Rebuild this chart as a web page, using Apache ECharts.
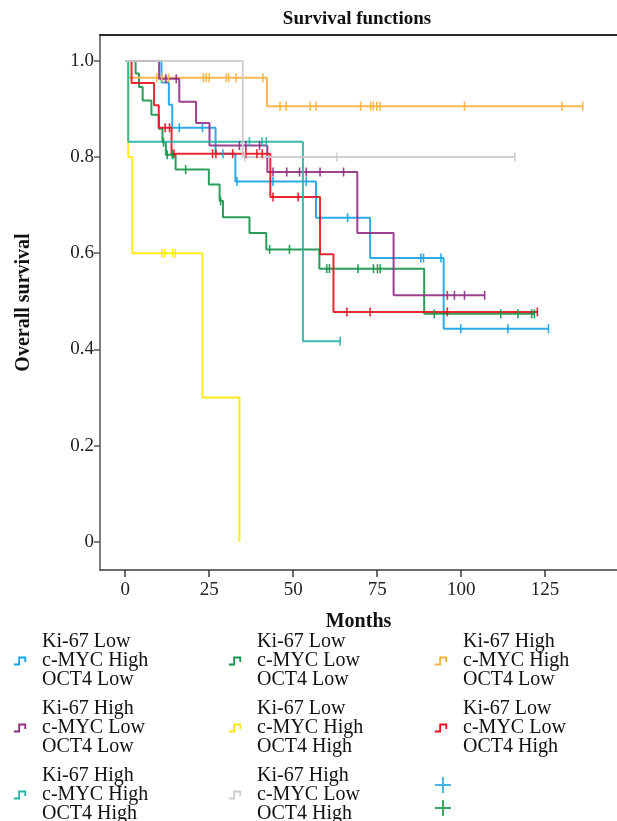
<!DOCTYPE html>
<html><head><meta charset="utf-8">
<script src="https://cdn.jsdelivr.net/npm/echarts@6/dist/echarts.min.js"></script>
<style>html,body{margin:0;padding:0;background:#fff}#c{width:617px;height:821px}</style>
</head><body><div id="c"></div>
<script>
// ---------- data ----------
const groupNames = [
  'Ki-67 Low\nc-MYC High\nOCT4 Low',
  'Ki-67 Low\nc-MYC Low\nOCT4 Low',
  'Ki-67 High\nc-MYC High\nOCT4 Low',
  'Ki-67 High\nc-MYC Low\nOCT4 Low',
  'Ki-67 Low\nc-MYC High\nOCT4 High',
  'Ki-67 Low\nc-MYC Low\nOCT4 High',
  'Ki-67 High\nc-MYC High\nOCT4 High',
  'Ki-67 High\nc-MYC Low\nOCT4 High'
];
const groupColors = ['#16a2e4','#139447','#f8b03e','#902c84','#ffe900','#e6121d','#27b0a3','#cbcbcb'];

// event (drop) times and survival after each drop; last follow-up time; censor times
const eventTimes0 = [10.8, 13, 14, 26.9, 32.8, 56.8, 72.9, 94.8];
const survival0   = [0.955, 0.909, 0.861, 0.807, 0.749, 0.674, 0.590, 0.443];
const lastTime0 = 126;
const censor0 = [16.1, 23, 29.1, 33.3, 44, 53.9, 66.2, 88, 88.8, 94, 99.9, 113.9, 126];

const eventTimes1 = [3.1, 4.1, 5.2, 7.8, 10, 11.1, 12.1, 15, 24.9, 28.1, 29.1, 37, 42, 57.8, 89];
const survival1   = [0.974, 0.946, 0.918, 0.888, 0.859, 0.831, 0.805, 0.774, 0.743, 0.709, 0.675, 0.642, 0.608, 0.568, 0.474];
const lastTime1 = 121.8;
const censor1 = [11.4, 12.5, 14, 18, 28.4, 43, 48.9, 60, 60.8, 69.3, 73.9, 75.1, 75.9, 92, 111.8, 116.9, 121, 121.8];

const eventTimes2 = [0.9, 42.2];
const survival2   = [0.965, 0.906];
const lastTime2 = 136.2;
const censor2 = [9.4, 10.9, 12.9, 23.3, 24.1, 25, 30.1, 30.8, 33, 41, 46.1, 47.9, 55.1, 56.8, 70.1, 73.1, 73.9, 74.9, 75.9, 101, 130, 136.2];

const eventTimes3 = [10.1, 16.1, 21.1, 25.1, 42.3, 69.1, 79.9];
const survival3   = [0.963, 0.915, 0.871, 0.824, 0.769, 0.642, 0.5125];
const lastTime3 = 107;
const censor3 = [12.1, 15.2, 34, 35.9, 40, 44, 48.1, 51.9, 53.9, 58, 65, 95.9, 98, 101, 107];

const eventTimes4 = [0.9, 2.1, 23, 34];
const survival4   = [0.8, 0.6, 0.3, 0];
const lastTime4 = 34;
const censor4 = [10.9, 11.7, 14.1, 14.9];

const eventTimes5 = [1.9, 8.6, 10, 13.8, 43.2, 58, 62];
const survival5   = [0.954, 0.908, 0.861, 0.807, 0.717, 0.598, 0.478];
const lastTime5 = 122.7;
const censor5 = [11.9, 13.2, 14.5, 26, 27, 32, 35.9, 39.2, 40.8, 44, 51.5, 66, 72.9, 95.9, 122.7];

const eventTimes6 = [0.9, 52.9];
const survival6   = [0.832, 0.417];
const lastTime6 = 64;
const censor6 = [37, 40.7, 42, 64];

const eventTimes7 = [35];
const survival7   = [0.8];
const lastTime7 = 116;
const censor7 = [35.6, 63, 116];

const xTicks = [0, 25, 50, 75, 100, 125];
const yTicks = [0, 0.2, 0.4, 0.6, 0.8, 1.0];

// ---------- build ----------
const allEvents = [eventTimes0,eventTimes1,eventTimes2,eventTimes3,eventTimes4,eventTimes5,eventTimes6,eventTimes7];
const allSurv = [survival0,survival1,survival2,survival3,survival4,survival5,survival6,survival7];
const allLast = [lastTime0,lastTime1,lastTime2,lastTime3,lastTime4,lastTime5,lastTime6,lastTime7];
const allCensor = [censor0,censor1,censor2,censor3,censor4,censor5,censor6,censor7];

function survAt(ts, ss, t){ let s = 1; for (let i=0;i<ts.length;i++){ if (ts[i] <= t) s = ss[i]; } return s; }

const FONT = 'Liberation Serif';
const stepIcon = 'path://M0,8 L6,8 L6,0 L13,0 L13,5';
const plusIcon = 'path://M7,0 L9,0 L9,7 L16,7 L16,9 L9,9 L9,16 L7,16 L7,9 L0,9 L0,7 L7,7 Z';

const series = [];
groupNames.forEach((name, g) => {
  const pts = [[0, 1]];
  allEvents[g].forEach((t, i) => pts.push([t, allSurv[g][i]]));
  pts.push([allLast[g], allSurv[g][allSurv[g].length - 1]]);
  series.push({
    name, type: 'line', step: 'end', data: pts, showSymbol: false, symbol: 'none',
    lineStyle: { color: groupColors[g], width: 2, opacity: 0.9 },
    itemStyle: { color: groupColors[g] },
    silent: true, animation: false, z: 2
  });
  series.push({
    name: 'censor' + g, type: 'scatter', symbol: 'rect', symbolSize: [1.6, 9],
    data: allCensor[g].map(t => [t, survAt(allEvents[g], allSurv[g], t)]),
    itemStyle: { color: groupColors[g], opacity: 0.9 }, silent: true, animation: false, z: 3
  });
});
series.push({ name: 'plusA', type: 'scatter', data: [], itemStyle: { color: '#1ba1e2' } });
series.push({ name: 'plusB', type: 'scatter', data: [], itemStyle: { color: '#0d8f3b' } });

function legendItem(g){
  return { name: groupNames[g], icon: stepIcon,
    itemStyle: { color: 'transparent', borderColor: groupColors[g], borderWidth: 1.8 } };
}
const legendText = { fontFamily: FONT, fontSize: 20, lineHeight: 19, color: '#111', padding: [0,0,0,11] };
function legendCol(left, idx){
  return { orient: 'vertical', left, top: 632, height: 205, padding: 0, itemGap: 9, itemWidth: 13, itemHeight: 7,
    selectedMode: false, textStyle: legendText, data: idx.map(legendItem) };
}

const chart = echarts.init(document.getElementById('c'), null, { renderer: 'canvas' });
chart.setOption({
  animation: false,
  backgroundColor: '#fff',
  title: { text: 'Survival functions', left: 352, top: 5, textAlign: 'center',
    textStyle: { fontFamily: FONT, fontWeight: 'bold', fontSize: 19, color: '#111' } },
  grid: { left: 100, top: 35, right: 0, bottom: 251, containLabel: false },
  legend: [
    legendCol(13, [0, 3, 6]),
    legendCol(228, [1, 4, 7]),
    legendCol(434, [2, 5]),
    { orient: 'vertical', left: 435, top: 777, height: 60, padding: 0, itemGap: 7, itemWidth: 16, itemHeight: 16,
      selectedMode: false, formatter: () => '', textStyle: { fontSize: 8, lineHeight: 8 },
      data: [ { name: 'plusA', icon: plusIcon, itemStyle: { color: '#1ba1e2' } },
              { name: 'plusB', icon: plusIcon, itemStyle: { color: '#0d8f3b' } } ] }
  ],
  xAxis: [
    { type: 'value', min: -7.5, max: 146.4, position: 'bottom',
      axisLine: { show: true, onZero: false, lineStyle: { color: '#3c3c3c', width: 1.5 } },
      axisTick: { show: true, customValues: xTicks, length: 7, lineStyle: { color: '#3c3c3c', width: 1.5 } },
      axisLabel: { customValues: xTicks, margin: 11, fontFamily: FONT, fontSize: 19, color: '#222' },
      splitLine: { show: false },
      name: 'Months', nameLocation: 'middle', nameGap: 42,
      nameTextStyle: { fontFamily: FONT, fontWeight: 'bold', fontSize: 20, color: '#111' } },
    { type: 'value', min: -7.5, max: 146.4, position: 'top',
      axisLine: { show: true, onZero: false, lineStyle: { color: '#2a2a2a', width: 2 } },
      axisTick: { show: false }, axisLabel: { show: false }, splitLine: { show: false } }
  ],
  yAxis: {
    type: 'value', min: -0.0589, max: 1.054,
    axisLine: { show: true, onZero: false, lineStyle: { color: '#555', width: 1.5 } },
    axisTick: { show: true, customValues: yTicks, length: 6, lineStyle: { color: '#555', width: 1.5 } },
    axisLabel: { customValues: yTicks, margin: 6, fontFamily: FONT, fontSize: 19, color: '#222',
      formatter: v => (Math.abs(v) < 1e-9 ? '0' : v.toFixed(1)) },
    splitLine: { show: false },
    name: 'Overall survival', nameLocation: 'middle', nameGap: 66, nameRotate: 90,
    nameTextStyle: { fontFamily: FONT, fontWeight: 'bold', fontSize: 20, color: '#111' }
  },
  series
});
</script>
</body></html>
